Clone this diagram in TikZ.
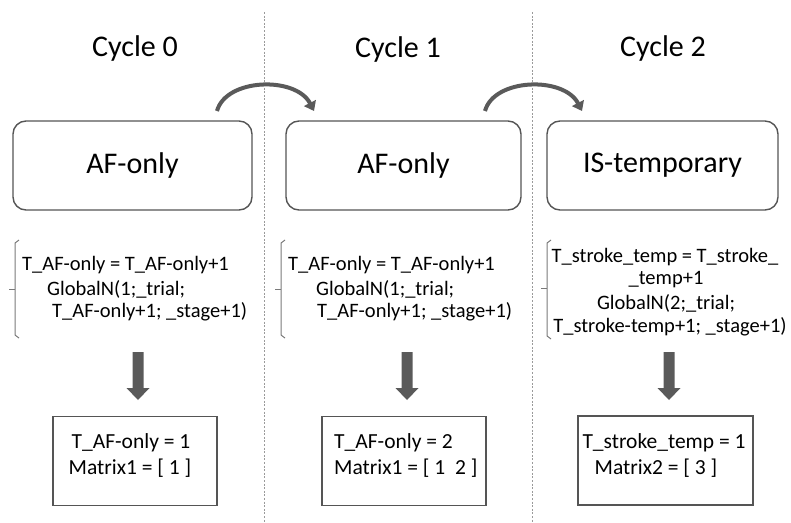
\documentclass[tikz,border=0pt]{standalone}
\usepackage{fontspec}
\setmainfont{Carlito}
\usetikzlibrary{arrows.meta}
\definecolor{edge}{HTML}{555555}
\definecolor{arrowgray}{HTML}{5A5A5A}
\definecolor{sepgray}{HTML}{9A9A9A}
\definecolor{bracegray}{HTML}{7A7A7A}
\begin{document}
\begin{tikzpicture}[x=1pt,y=-1pt,
  title/.style={font=\fontsize{30}{34}\selectfont},
  statebox/.style={draw=edge,line width=1.4pt,rounded corners=13pt,minimum width=239pt,minimum height=89pt,font=\fontsize{30}{34}\selectfont},
  code/.style={font=\fontsize{20.5}{24}\selectfont,inner sep=0pt},
  resbox/.style={draw=edge,line width=1.4pt,minimum height=89pt},
  restext/.style={font=\fontsize{21.5}{25}\selectfont,inner sep=0pt},
  sep/.style={draw=sepgray,line width=0.6pt,dash pattern=on 2pt off 1.6pt},
  bracket/.style={draw=bracegray,line width=1pt},
  cyclearrow/.style={draw=arrowgray,line width=4pt,-{Triangle[width=13pt,length=9pt]}},
  blockarrow/.style={fill=arrowgray,draw=none}
]
\useasboundingbox (0,0) rectangle (791,522);

% column separators
\draw[sep] (264,12) -- (264,522);
\draw[sep] (532,12) -- (532,522);

% column titles
\node[title] (t0) at (135,49) {Cycle 0};
\node[title] (t1) at (398,50) {Cycle 1};
\node[title] (t2) at (663,49) {Cycle 2};

% state boxes
\node[statebox] (s0) at (132.5,165.5) {AF-only};
\node[statebox,minimum width=235pt] (s1) at (403.5,165.5) {AF-only};
\node[statebox,minimum width=231pt] (s2) at (662.5,165.5) {IS-temporary};

% transitions between cycles
\coordinate (a0) at (217,111);
\coordinate (b0) at (314,111);
\coordinate (a1) at (485,111);
\coordinate (b1) at (582,111);
\draw[cyclearrow] (a0) .. controls (226,78) and (296,76) .. (b0);
\draw[cyclearrow] (a1) .. controls (494,78) and (564,76) .. (b1);

% update rules, column 0
\draw[bracket] (19,240) -- (15,243) -- (15,335) -- (19,338);
\draw[bracket] (9,289) -- (15,289);
\node[code,anchor=west] (c0a) at (22,265) {T\_AF-only = T\_AF-only+1};
\node[code,anchor=west] (c0b) at (47,289) {GlobalN(1;\_trial;};
\node[code,anchor=west] (c0c) at (52,312) {T\_AF-only+1; \_stage+1)};

% update rules, column 1
\draw[bracket] (285,240) -- (281,243) -- (281,335) -- (285,338);
\draw[bracket] (275,289) -- (281,289);
\node[code,anchor=west] (c1a) at (288,265) {T\_AF-only = T\_AF-only+1};
\node[code,anchor=west] (c1b) at (316,289) {GlobalN(1;\_trial;};
\node[code,anchor=west] (c1c) at (317,312) {T\_AF-only+1; \_stage+1)};

% update rules, column 2
\draw[bracket] (551,240) -- (547,243) -- (547,336) -- (551,339);
\draw[bracket] (541,288) -- (547,288);
\node[code] (c2a) at (665,257) {T\_stroke\_temp = T\_stroke\_};
\node[code] (c2b) at (666,280) {\_temp+1};
\node[code] (c2c) at (666,303) {GlobalN(2;\_trial;};
\node[code] (c2d) at (670,327) {T\_stroke-temp+1; \_stage+1)};

% result boxes
\node[resbox,minimum width=164pt] (r0) at (135,461) {};
\node[resbox,minimum width=164pt] (r1) at (404,461) {};
\node[resbox,minimum width=175pt] (r2) at (665.5,460.5) {};
\node[restext] (r0a) at (131,443) {T\_AF-only = 1};
\node[restext] (r0b) at (130,468) {Matrix1 = [ 1 ]};
\node[restext,anchor=west] (r1a) at (334,443) {T\_AF-only = 2};
\node[restext,anchor=west] (r1b) at (334,468) {Matrix1 = [ 1~~2 ]};
\node[restext] (r2a) at (664,443) {T\_stroke\_temp = 1};
\node[restext] (r2b) at (656,468) {Matrix2 = [ 3 ]};

% rule -> result (block arrows, tip at the coordinate)
\coordinate (d0) at (138,400);
\coordinate (d1) at (407,400);
\coordinate (d2) at (669,400);
\foreach \d in {d0,d1,d2}
  \fill[blockarrow,shift={(\d)}] (-5.5,-48) -- (5.5,-48) -- (5.5,-12) -- (11.5,-12)
    -- (0,0) -- (-11.5,-12) -- (-5.5,-12) -- cycle;
\end{tikzpicture}
\end{document}
